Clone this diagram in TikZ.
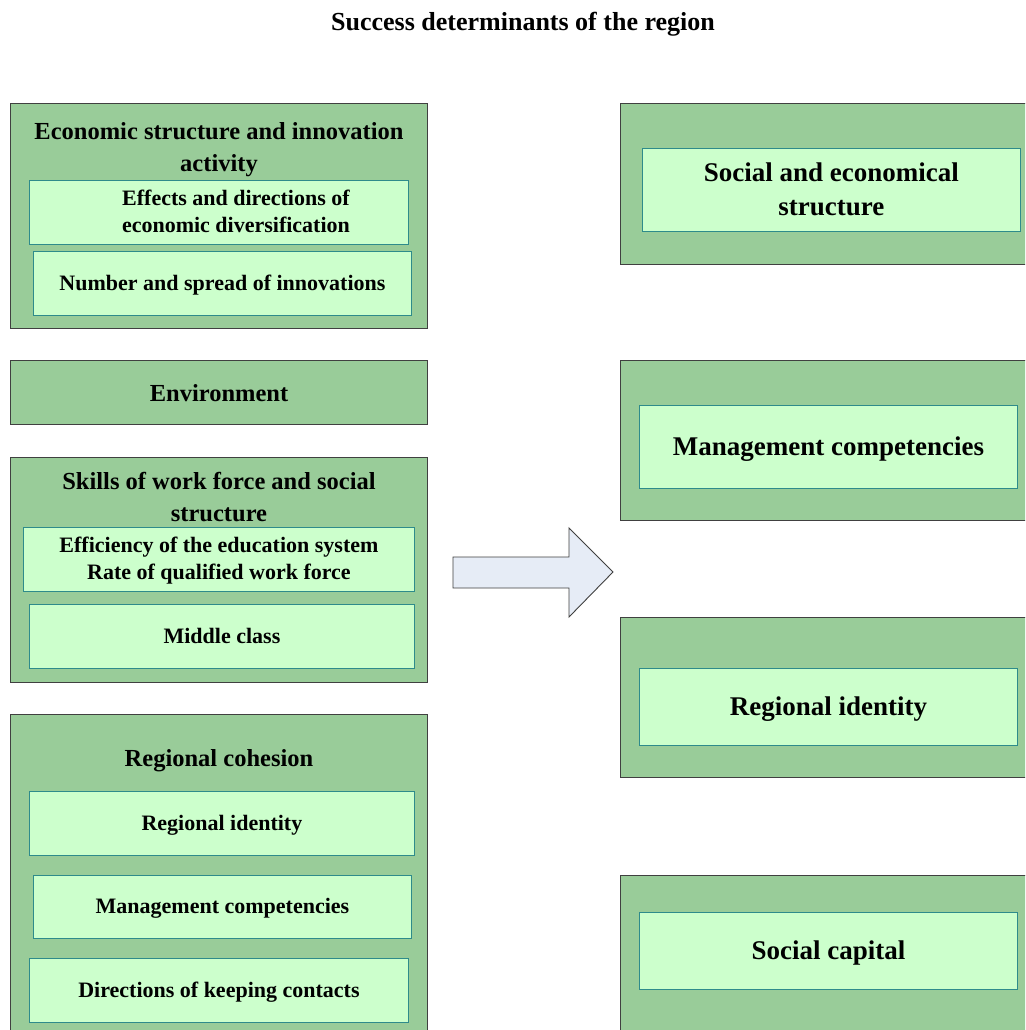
\documentclass[tikz,border=0pt]{standalone}
\usepackage{fontspec}
\setmainfont{Liberation Serif}
\usetikzlibrary{positioning}

\definecolor{outergreen}{HTML}{99CC99}
\definecolor{innergreen}{HTML}{CCFFCC}
\definecolor{innerline}{HTML}{2E8B8B}
\definecolor{arrowfill}{HTML}{E6ECF6}

\tikzset{
  outerbox/.style={draw=black!75, fill=outergreen, line width=0.9pt, anchor=north west, inner sep=0pt},
  innerbox/.style={draw=innerline, fill=innergreen, line width=0.9pt, anchor=north west, inner sep=0pt, align=center, text depth=2pt, font=\fontsize{22}{27}\selectfont\bfseries},
  bigbox/.style={innerbox, text depth=1pt, font=\fontsize{27}{34}\selectfont\bfseries},
  headtext/.style={align=center, font=\fontsize{24.5}{32}\selectfont\bfseries}
}

\begin{document}
\begin{tikzpicture}[x=1pt, y=-1pt]
  \clip (0, 0) rectangle (1025, 1030);
  \fill[white] (0, 0) rectangle (1025, 1030);

  \node[font=\fontsize{26}{30}\selectfont\bfseries] (title) at (523, 24) {Success determinants of the region};

  % left column
  \node[outerbox, minimum width=417pt, minimum height=225pt] (econ) at (10, 103) {};
  \node[headtext] (econhead) at (219, 150) {Economic structure and innovation\\activity};
  \node[innerbox, minimum width=379pt, minimum height=64pt] (diversif) at (29, 180) {\hspace*{34pt}Effects and directions of\\\hspace*{34pt}economic diversification};
  \node[innerbox, minimum width=378pt, minimum height=64pt] (innov) at (33, 251) {Number and spread of innovations};

  \node[outerbox, minimum width=417pt, minimum height=64pt] (env) at (10, 360) {};
  \node[headtext] (envhead) at (219, 393) {Environment};

  \node[outerbox, minimum width=417pt, minimum height=225pt] (skills) at (10, 457) {};
  \node[headtext] (skillshead) at (219, 497) {Skills of work force and social\\structure};
  \node[innerbox, minimum width=391pt, minimum height=64pt] (educ) at (23, 527) {Efficiency of the education system\\Rate of qualified work force};
  \node[innerbox, minimum width=385pt, minimum height=64pt] (middle) at (29, 604) {Middle class};

  \node[outerbox, minimum width=417pt, minimum height=330pt] (cohesion) at (10, 714) {};
  \node[headtext] (cohesionhead) at (219, 761) {Regional cohesion};
  \node[innerbox, minimum width=385pt, minimum height=64pt] (identL) at (29, 791) {Regional identity};
  \node[innerbox, minimum width=378pt, minimum height=63pt] (managL) at (33, 875) {Management competencies};
  \node[innerbox, minimum width=379pt, minimum height=64pt] (contacts) at (29, 958) {Directions of keeping contacts};

  % arrow
  \draw[fill=arrowfill, draw=black!75, line width=0.9pt]
    (453, 557) -- (569, 557) -- (569, 528) -- (613, 572) -- (569, 617) -- (569, 588) -- (453, 588) -- cycle;

  % right column
  \node[outerbox, minimum width=420pt, minimum height=161pt] (socR) at (620, 103) {};
  \node[bigbox, minimum width=378pt, minimum height=83pt] (socecon) at (642, 148) {Social and economical\\structure};

  \node[outerbox, minimum width=420pt, minimum height=160pt] (manR) at (620, 360) {};
  \node[bigbox, minimum width=378pt, minimum height=83pt] (managR) at (639, 405) {Management competencies};

  \node[outerbox, minimum width=420pt, minimum height=160pt] (idR) at (620, 617) {};
  \node[bigbox, minimum width=378pt, minimum height=77pt] (identR) at (639, 668) {Regional identity};

  \node[outerbox, minimum width=420pt, minimum height=170pt] (capR) at (620, 875) {};
  \node[bigbox, minimum width=378pt, minimum height=77pt] (capital) at (639, 912) {Social capital};
\end{tikzpicture}
\end{document}
